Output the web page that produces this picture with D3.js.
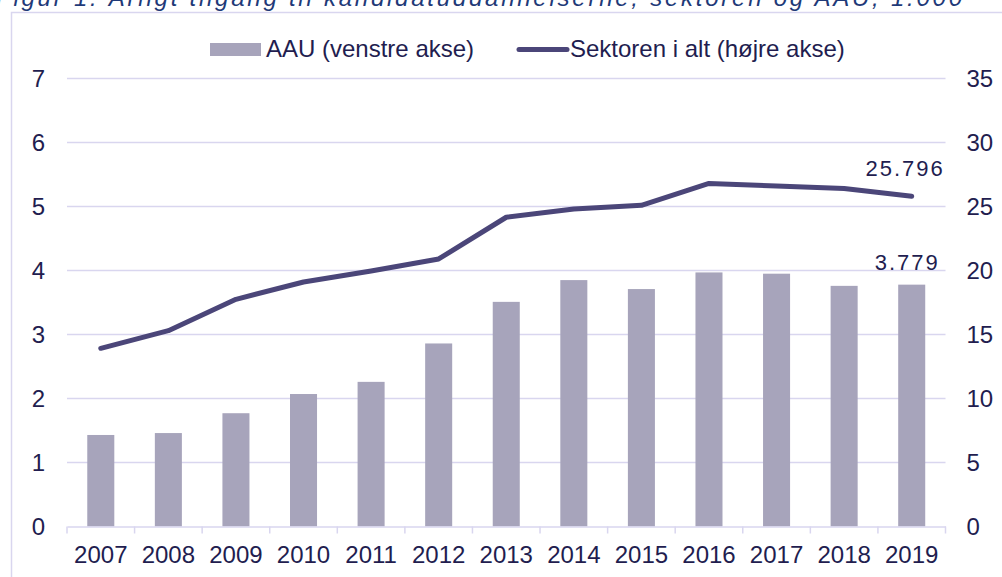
<!DOCTYPE html>
<html><head><meta charset="utf-8">
<script src="https://cdn.jsdelivr.net/npm/d3@7/dist/d3.min.js"></script>
<style>body{margin:0;background:#fff}svg{display:block;font-family:Arial,"Liberation Sans",sans-serif}</style>
</head><body>
<svg id="c" width="1002" height="577"></svg>
<script>
const years = ["2007","2008","2009","2010","2011","2012","2013","2014","2015","2016","2017","2018","2019"];
const aau = [1.43,1.46,1.77,2.07,2.26,2.86,3.51,3.85,3.71,3.97,3.95,3.76,3.779];
const sektor = [13.92,15.3,17.75,19.1,19.96,20.9,24.16,24.8,25.09,26.8,26.6,26.4,25.796];
const leftTicks = [0,1,2,3,4,5,6,7];
const rightTicks = [0,5,10,15,20,25,30,35];
const title = "Figur 1. Årligt tilgang til kandidatuddannelserne, sektoren og AAU, 1.000";
const legendLabels = ["AAU (venstre akse)","Sektoren i alt (højre akse)"];
const labelAAU = "3.779", labelSektor = "25.796";

const svg = d3.select("#c");
const txt = "#221d4f", grid = "#d9d6ef", barC = "#a7a4bb", lineC = "#4b4679";
const L = 67, R = 945.5, T = 78.5, B = 526.5;
const FF = "Arial,'Liberation Sans',sans-serif";

svg.append("text").attr("x",-4).attr("y",6).attr("font-size",24).attr("font-style","italic")
  .attr("fill","#1f3a78").attr("textLength",966).text(title);
svg.append("rect").attr("x",11.5).attr("y",12.5).attr("width",1100).attr("height",700)
  .attr("fill","none").attr("stroke",grid).attr("stroke-width",1.5);

const x = d3.scaleBand().domain(years).range([L,R]).paddingInner(0.6).paddingOuter(0.3);
const xb = d3.scaleBand().domain(years).range([L,R]);
const yL = d3.scaleLinear().domain([0,7]).range([B,T]);
const yR = d3.scaleLinear().domain([0,35]).range([B,T]);

svg.append("g").selectAll("line").data(leftTicks.filter(d=>d>0)).join("line")
  .attr("x1",L).attr("x2",R).attr("y1",d=>yL(d)).attr("y2",d=>yL(d))
  .attr("stroke",grid).attr("stroke-width",1.5);

svg.append("g").selectAll("rect").data(years).join("rect")
  .attr("x",d=>x(d)).attr("width",x.bandwidth())
  .attr("y",(d,i)=>yL(aau[i])).attr("height",(d,i)=>B-yL(aau[i])).attr("fill",barC);

// x axis
const xa = svg.append("g").attr("transform",`translate(0,${B})`)
  .call(d3.axisBottom(xb).tickSize(0).tickPadding(19.5));
xa.select(".domain").attr("stroke",grid).attr("stroke-width",1.5);
xa.selectAll("text").attr("font-size",24).attr("fill",txt).attr("font-family",FF);
const bounds = years.map(d=>xb(d)).concat([R]);
svg.append("g").selectAll("line").data(bounds).join("line")
  .attr("x1",d=>d).attr("x2",d=>d).attr("y1",B).attr("y2",B+7).attr("stroke",grid).attr("stroke-width",1.5);

// left axis
const la = svg.append("g").attr("transform",`translate(${L},0)`)
  .call(d3.axisLeft(yL).tickValues(leftTicks).tickSize(0).tickPadding(22).tickFormat(d3.format("d")));
la.select(".domain").remove();
la.selectAll("text").attr("font-size",24).attr("fill",txt).attr("font-family",FF);
// right axis
const ra = svg.append("g").attr("transform",`translate(${R},0)`)
  .call(d3.axisRight(yR).tickValues(rightTicks).tickSize(0).tickPadding(21).tickFormat(d3.format("d")));
ra.select(".domain").remove();
ra.selectAll("text").attr("font-size",24).attr("fill",txt).attr("font-family",FF);

// line
const line = d3.line().x((d,i)=>xb(years[i])+xb.bandwidth()/2).y(d=>yR(d));
svg.append("path").datum(sektor).attr("d",line).attr("fill","none")
  .attr("stroke",lineC).attr("stroke-width",5).attr("stroke-linecap","round").attr("stroke-linejoin","round");

// data labels
const last = years.length-1;
const cx = xb(years[last])+xb.bandwidth()/2;
svg.append("text").attr("x",cx+33).attr("y",yR(sektor[last])-20)
  .attr("text-anchor","end").attr("font-size",22).attr("letter-spacing",2).attr("fill",txt).text(labelSektor);
svg.append("text").attr("x",cx+28).attr("y",yL(aau[last])-15)
  .attr("text-anchor","end").attr("font-size",22).attr("letter-spacing",2).attr("fill",txt).text(labelAAU);

// legend
const lg = svg.append("g");
lg.append("rect").attr("x",210).attr("y",43).attr("width",51).attr("height",13).attr("fill",barC);
lg.append("text").attr("x",266).attr("y",56.5).attr("font-size",24).attr("fill",txt).text(legendLabels[0]);
lg.append("line").attr("x1",519).attr("x2",567).attr("y1",49.5).attr("y2",49.5)
  .attr("stroke",lineC).attr("stroke-width",5).attr("stroke-linecap","round");
lg.append("text").attr("x",570).attr("y",56.5).attr("font-size",24).attr("fill",txt).text(legendLabels[1]);
</script>
</body></html>
